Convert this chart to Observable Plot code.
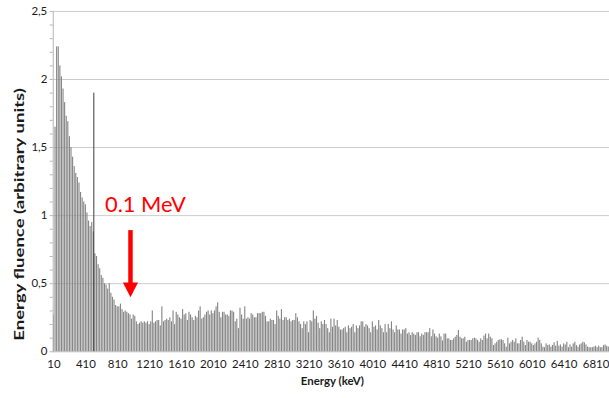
<!DOCTYPE html>
<html>
<head>
<meta charset="utf-8">
<script src="https://cdn.jsdelivr.net/npm/d3@7"></script>
<script src="https://cdn.jsdelivr.net/npm/@observablehq/plot@0.6"></script>
<style>
  html, body { margin: 0; padding: 0; background: #fff; overflow: hidden; }
  #chart { width: 609px; height: 398px; overflow: hidden; }
  #chart [aria-label="y-axis label"] { font-weight: bold; font-size: 13px; }
</style>
</head>
<body>
<div id="chart"></div>
<script>
// Bin layout of the spectrum (keV): first bin label and bin width
const binStart = 10;
const binWidth = 20;

// Energy fluence per 20 keV bin (arbitrary units)
const fluence = [
  0.27, 1.65, 2.24, 2.24, 2.10, 2.02, 1.93, 1.83, 1.73, 1.69,
  1.58, 1.50, 1.43, 1.36, 1.31, 1.28, 1.24, 1.17, 1.13, 1.10,
  1.08, 1.02, 0.96, 0.92, 0.95, 0.88,
  0.72, 0.70, 0.64, 0.61, 0.56, 0.54, 0.50, 0.49, 0.46, 0.50,
  0.43, 0.40, 0.38, 0.34, 0.33,
  0.33, 0.35, 0.31, 0.29, 0.30, 0.29, 0.28, 0.27, 0.24, 0.27,
  0.26, 0.22, 0.20, 0.21, 0.22, 0.21, 0.22, 0.21, 0.22, 0.20,
  0.22, 0.30, 0.21, 0.22, 0.23,
  0.23, 0.19, 0.33, 0.22, 0.23, 0.24, 0.23, 0.25, 0.22, 0.30,
  0.20, 0.29, 0.27, 0.25, 0.24, 0.31, 0.27, 0.28, 0.23, 0.29,
  0.27, 0.25, 0.23, 0.26, 0.25, 0.30, 0.33, 0.24, 0.25, 0.27,
  0.29, 0.30, 0.27, 0.30, 0.28, 0.30, 0.33, 0.36, 0.29, 0.25,
  0.29, 0.29, 0.27, 0.27, 0.26, 0.30, 0.30, 0.29, 0.22, 0.24,
  0.17, 0.32, 0.27, 0.24, 0.33, 0.24, 0.25, 0.24, 0.28, 0.27,
  0.25, 0.25, 0.28, 0.28, 0.28, 0.29, 0.29, 0.26, 0.22, 0.22,
  0.24, 0.23, 0.23, 0.20, 0.30, 0.26, 0.24, 0.31, 0.23, 0.25,
  0.25, 0.23, 0.24, 0.22, 0.23, 0.23, 0.28, 0.25, 0.22, 0.20,
  0.17, 0.22, 0.20, 0.22, 0.14, 0.23, 0.22, 0.30, 0.24, 0.26,
  0.21, 0.17, 0.22, 0.20, 0.23, 0.20, 0.17, 0.14, 0.24, 0.18,
  0.24, 0.19, 0.23, 0.18, 0.16, 0.16, 0.17, 0.18, 0.14, 0.19,
  0.17, 0.18, 0.20, 0.14, 0.19, 0.17, 0.19, 0.22, 0.22, 0.18,
  0.20, 0.19, 0.17, 0.14, 0.22, 0.18, 0.19, 0.16, 0.23, 0.19,
  0.17, 0.14, 0.20, 0.14, 0.20, 0.17, 0.22, 0.16, 0.14, 0.19,
  0.16, 0.16, 0.13, 0.16, 0.16, 0.17, 0.13, 0.14, 0.12, 0.14,
  0.13, 0.12, 0.14, 0.14, 0.11, 0.13, 0.12, 0.14, 0.14, 0.14,
  0.17, 0.11, 0.16, 0.13, 0.11, 0.10, 0.13, 0.11, 0.08, 0.13,
  0.13, 0.095, 0.095, 0.083, 0.083, 0.095, 0.107, 0.12, 0.156, 0.107,
  0.095, 0.095, 0.107, 0.07, 0.083, 0.083, 0.083, 0.095, 0.10, 0.095,
  0.083, 0.07, 0.095, 0.083, 0.115, 0.13, 0.095, 0.13, 0.107, 0.095,
  0.046, 0.058, 0.07, 0.083, 0.088, 0.088, 0.083, 0.058, 0.034, 0.10,
  0.058, 0.07, 0.083, 0.07, 0.095, 0.058, 0.058, 0.083, 0.107, 0.07,
  0.046, 0.083, 0.07, 0.07, 0.058, 0.046, 0.058, 0.07, 0.10, 0.083,
  0.058, 0.034, 0.03, 0.058, 0.046, 0.05, 0.034, 0.046, 0.066, 0.041,
  0.076, 0.041, 0.05, 0.034, 0.058, 0.05, 0.07, 0.03, 0.05, 0.034,
  0.058, 0.07, 0.046, 0.034, 0.05, 0.058, 0.07, 0.066, 0.05, 0.034,
  0.03, 0.03, 0.03, 0.035, 0.04, 0.03, 0.041, 0.03, 0.03, 0.045,
  0.05, 0.04, 0.035
];

// The narrow 511 keV line
const peakEnergy = [510];
const peakValue = [1.9];

// Axis ticks
const xTicks = [10, 410, 810, 1210, 1610, 2010, 2410, 2810, 3210, 3610, 4010, 4410, 4810, 5210, 5610, 6010, 6410, 6810];
const yTicks = [0, 0.5, 1, 1.5, 2, 2.5];
const yMinor = d3.range(0, 26).map(i => i / 10);

// Annotation
const noteEnergy = [970];
const noteText = ["0.1 MeV"];

const energies = fluence.map((_, i) => binStart + i * binWidth);
const bars = fluence.map((v, i) => ({energy: energies[i], value: v}));
const peaks = peakEnergy.map((e, i) => ({energy: e, value: peakValue[i]}));
const arrowData = [{energy: noteEnergy[0], top: 0.89, base: 0.49, tip: 0.40}];
const labelData = [{energy: 650, value: 1.075, text: noteText[0]}];

const headDown = {
  draw(ctx) {
    ctx.moveTo(-7.6, -15);
    ctx.lineTo(7.6, -15);
    ctx.lineTo(0, 0);
    ctx.closePath();
  }
};

const chart = Plot.plot({
  width: 612,
  height: 398,
  marginLeft: 53,
  marginRight: 0,
  marginTop: 11,
  marginBottom: 45,
  style: {fontFamily: "Lato, 'Open Sans', sans-serif", fontSize: "11.5px", color: "#1a1a1a", background: "#fff", overflow: "visible"},
  x: {type: "band", domain: energies, paddingInner: 0.3, paddingOuter: 0.1, axis: null},
  y: {domain: [0, 2.5], axis: null},
  marks: [
    Plot.gridY(yTicks.filter(d => d > 0), {stroke: "#cccccc", strokeOpacity: 1, strokeWidth: 1}),
    Plot.barY(bars, {x: "energy", y: "value", fill: "#858585"}),
    Plot.ruleX(peaks, {x: "energy", y1: 0, y2: "value", stroke: "#3a3a3a", strokeWidth: 1}),
    Plot.ruleY([0], {stroke: "#b5b5b5"}),
    Plot.frame({anchor: "left", stroke: "#b5b5b5"}),
    Plot.axisY(yMinor, {tickSize: 3, tickFormat: () => "", stroke: "#b5b5b5", label: null}),
    Plot.axisY(yTicks, {
      tickSize: 0, tickPadding: 6, tickFormat: d => String(d).replace(".", ","),
      label: "Energy fluence (arbitrary units)", labelAnchor: "center", labelArrow: "none", labelOffset: 39
    }),
    Plot.axisX(xTicks, {tickSize: 0, tickPadding: 8, tickFormat: d => String(d), label: null}),
    Plot.ruleX(arrowData, {x: "energy", y1: "base", y2: "top", stroke: "#ff0000", strokeWidth: 4.5}),
    Plot.dot(arrowData, {x: "energy", y: "tip", symbol: headDown, r: 5, fill: "#ff0000", stroke: "none"}),
    Plot.text(labelData, {x: "energy", y: "value", text: "text", fill: "#ff0000", fontSize: 22, textAnchor: "start"}),
    Plot.text(["Energy (keV)"], {frameAnchor: "bottom", dx: 1, dy: 33, fontWeight: "bold", fontSize: 11.5, fill: "#1a1a1a"})
  ]
});
document.getElementById("chart").appendChild(chart);

// The reference's y title is drawn lower than the frame centre and stretched along its length
d3.select(chart).selectAll('[aria-label="y-axis label"] text')
  .attr("dx", -33)
  .attr("textLength", 254)
  .attr("lengthAdjust", "spacingAndGlyphs");
</script>
</body>
</html>
